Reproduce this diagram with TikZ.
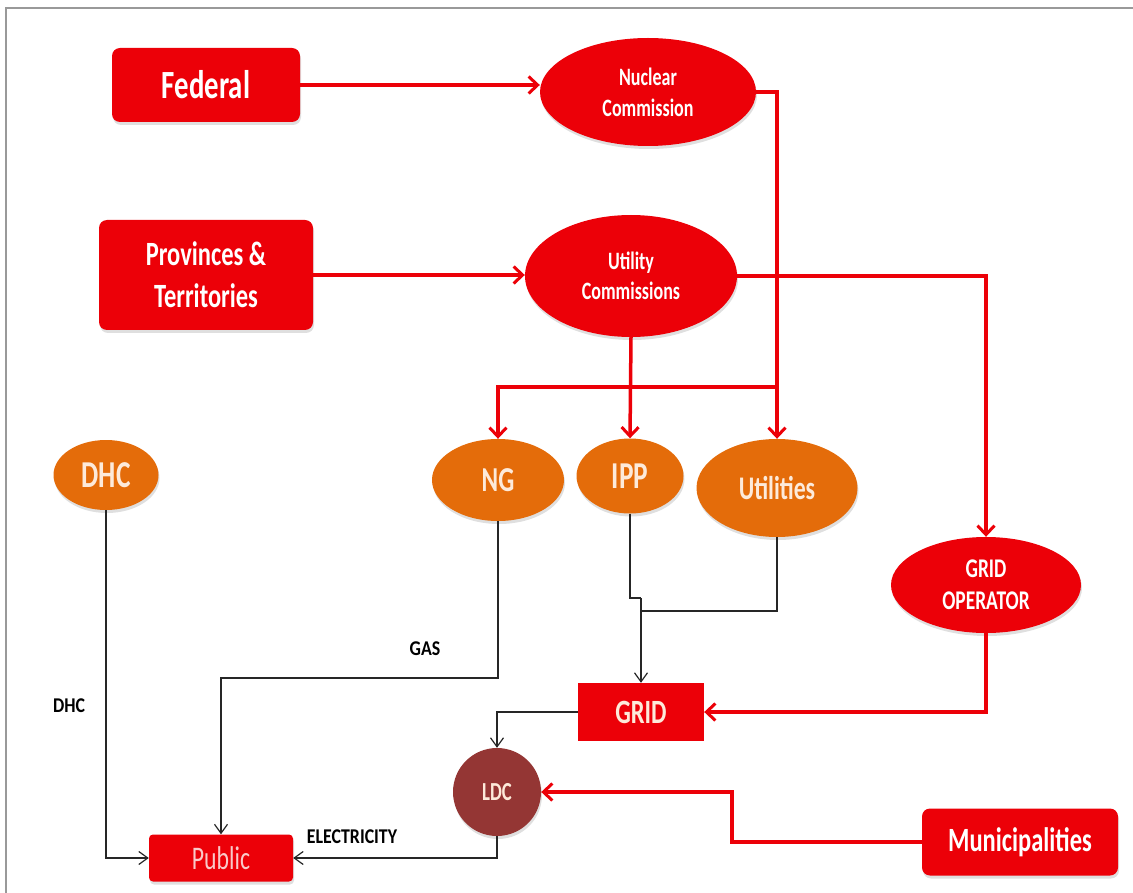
\documentclass[tikz,border=0pt]{standalone}
\usepackage{fontspec}
\setmainfont{Carlito}[FakeStretch=0.72]
\newfontfamily\labelfont{Carlito}[FakeStretch=0.85]
\usetikzlibrary{shapes.geometric,arrows.meta,shadows}
\definecolor{boxred}{HTML}{EC0008}
\definecolor{nodeorange}{HTML}{E46C0A}
\definecolor{ldcred}{HTML}{943634}
\definecolor{cream}{HTML}{FDEADA}
\definecolor{publictext}{HTML}{F9C9C9}

\begin{document}
\begin{tikzpicture}
[x=1pt,y=-1pt,
 redarrow/.style={draw=boxred,line width=3.5pt,-{Straight Barb[length=9pt,width=17pt,line width=3pt]}},
 blackarrow/.style={draw=black!85,line width=1.3pt,-{Straight Barb[length=9pt,width=13pt,line width=1.2pt]}},
 blackline/.style={draw=black!85,line width=1.3pt},
 softshadow/.style={drop shadow={opacity=0.25,shadow xshift=1pt,shadow yshift=-3pt}},
 redbox/.style={fill=boxred,rounded corners=8pt,text=white,font=\bfseries,align=center,inner sep=0pt,softshadow},
 redell/.style={ellipse,fill=boxred,text=white,font=\bfseries,align=center,inner sep=0pt,softshadow},
 orangeell/.style={ellipse,fill=nodeorange,text=cream,font=\bfseries,inner sep=0pt,softshadow},
 flowlabel/.style={font=\labelfont\bfseries\fontsize{21}{24}\selectfont,text=black}]

\useasboundingbox (0,0) rectangle (1133,893);

% the frame
\draw[black!40,line width=2pt] (6,893) -- (6,8) -- (1133,8);

% the bends of the connectors
\coordinate (bar) at (0,387);
\coordinate (jog) at (641,598);
\coordinate (join) at (641,611);
\coordinate (gasbend) at (0,678);
\coordinate (munibend) at (732,0);

% the governments
\node[redbox,minimum width=188pt,minimum height=74pt,font=\bfseries\fontsize{40}{44}\selectfont] (fed) at (206,85) {Federal};
\node[redbox,minimum width=214pt,minimum height=110pt,font=\bfseries\fontsize{34}{42}\selectfont] (prov) at (206,275) {Provinces \&\\Territories};
\node[redbox,minimum width=196pt,minimum height=67pt,font=\bfseries\fontsize{34}{38}\selectfont] (muni) at (1020,842) {Municipalities};

% the commissions
\node[redell,minimum width=216pt,minimum height=108pt,font=\bfseries\fontsize{25}{31}\selectfont] (nuc) at (648,92) {Nuclear\\Commission};
\node[redell,minimum width=212pt,minimum height=122pt,font=\bfseries\fontsize{25}{30}\selectfont] (ucom) at (631,276) {Utility\\Commissions};
\node[redell,minimum width=190pt,minimum height=96pt,font=\bfseries\fontsize{27}{32}\selectfont] (gop) at (986,585) {GRID\\OPERATOR};

% the suppliers
\node[orangeell,minimum width=105pt,minimum height=70pt,font=\bfseries\fontsize{38}{40}\selectfont] (dhc) at (106,475) {DHC};
\node[orangeell,minimum width=132pt,minimum height=82pt,font=\bfseries\fontsize{35}{38}\selectfont] (ng) at (498,480) {NG};
\node[orangeell,minimum width=107pt,minimum height=75pt,font=\bfseries\fontsize{38}{40}\selectfont] (ipp) at (630,476) {IPP};
\node[orangeell,minimum width=161pt,minimum height=98pt,font=\bfseries\fontsize{33}{36}\selectfont] (util) at (777,488) {Utilities};

% the grid, the LDC and the public
\node[fill=boxred,text=cream,minimum width=126pt,minimum height=58pt,inner sep=0pt,font=\bfseries\fontsize{34}{36}\selectfont] (grid) at (641,712) {GRID};
\node[circle,fill=ldcred,text=cream,minimum size=88pt,inner sep=0pt,softshadow,font=\bfseries\fontsize{26}{28}\selectfont] (ldc) at (497,792) {LDC};
\node[fill=boxred,rounded corners=4pt,text=publictext,minimum width=144pt,minimum height=47pt,inner sep=0pt,softshadow,font=\fontsize{33}{36}\selectfont] (public) at (221,858) {Public};

% the flow labels
\node[flowlabel] (gaslabel) at (425,649) {GAS};
\node[flowlabel] (dhclabel) at (69,706) {DHC};
\node[flowlabel] (eleclabel) at (352,837) {ELECTRICITY};

% the regulation
\draw[redarrow] (fed.east) -- (fed.east -| nuc.west);
\draw[redarrow] (prov.east) -- (prov.east -| ucom.west);
\draw[redarrow] (nuc.east) -| (util.north);
\draw[redarrow] (ucom.east) -| (gop.north);
\draw[redarrow] (ucom.south) -- (ipp.north);
\draw[redarrow] (util.north |- bar) -| (ng.north);
\draw[redarrow] (gop.south) |- (grid.east);
\draw[redarrow] (muni.west) -- (muni.west -| munibend) |- (ldc.east);

% the supply
\draw[blackline] (ipp.south) |- (jog);
\draw[blackarrow] (jog) -- (grid.north);
\draw[blackline] (util.south) |- (join);
\draw[blackarrow] (ng.south) |- (gasbend -| public.north) -- (public.north);
\draw[blackarrow] (dhc.south) |- (public.west);
\draw[blackarrow] (grid.west) -| (ldc.north);
\draw[blackarrow] (ldc.south) |- (public.east);

\end{tikzpicture}
\end{document}
